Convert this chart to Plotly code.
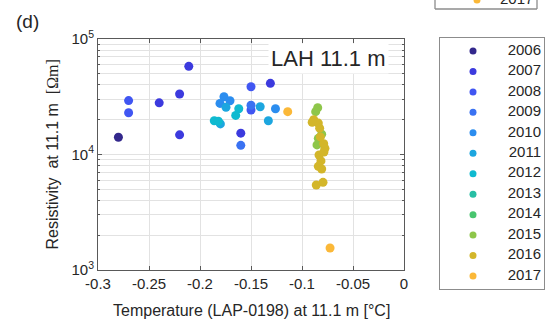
import plotly.graph_objects as go

W, H = 547, 324

# Survey years and their marker colours
years = [2006, 2007, 2008, 2009, 2010, 2011, 2012, 2013, 2014, 2015, 2016, 2017]
year_colors = ["#33288c", "#3c3ade", "#4056f2", "#3a72f2", "#2b8def", "#1ca6df",
               "#0fbad0", "#27bea4", "#48c56f", "#8ec64a", "#d3b62a", "#fbb838"]

# Temperature (LAP-0198) at 11.1 m [°C]
temperature = [-0.280,
               -0.270, -0.270, -0.240, -0.220, -0.220, -0.211, -0.131, -0.160,
               -0.150, -0.150,
               -0.160, -0.150,
               -0.1765, -0.1804, -0.1706, -0.126,
               -0.1745, -0.180, -0.141, -0.133,
               -0.162, -0.165, -0.186, -0.182,
               -0.0846, -0.0866, -0.0807, -0.0840, -0.0853,
               -0.0885, -0.0840, -0.0827, -0.0787, -0.0775, -0.0833, -0.0814,
               -0.0840, -0.0807, -0.0860, -0.0794, -0.0900, -0.0785, -0.0820,
               -0.114, -0.0725]
# Resistivity at 11.1 m [Ohm m]
resistivity = [14100,
               29300, 23000, 28000, 33400, 14800, 58000, 41300, 15300,
               38600, 24300,
               12000, 26700,
               31600, 27700, 29200, 24900,
               25600, 18400, 25900, 19600,
               24900, 21800, 19600, 19400,
               25400, 23500, 15000, 13800, 12100,
               20000, 18700, 16900, 12400, 11300, 9900, 8800,
               7900, 7490, 5450, 5740, 19000, 10500, 14200,
               23500, 1550]
sample_year = [2006,
               2008, 2008, 2007, 2007, 2007, 2007, 2007, 2007,
               2008, 2008,
               2009, 2009,
               2010, 2010, 2010, 2010,
               2011, 2011, 2011, 2011,
               2012, 2012, 2012, 2012,
               2015, 2015, 2015, 2015, 2015,
               2016, 2016, 2016, 2016, 2016, 2016, 2016,
               2016, 2016, 2016, 2016, 2016, 2016, 2016,
               2017, 2017]

x_ticks = [-0.3, -0.25, -0.2, -0.15, -0.1, -0.05, 0]
x_tick_labels = ["-0.3", "-0.25", "-0.2", "-0.15", "-0.1", "-0.05", "0"]
y_ticks = [1e3, 1e4, 1e5]
y_tick_labels = ["10<sup>3</sup>", "10<sup>4</sup>", "10<sup>5</sup>"]

FONT = "Liberation Sans, Arial, sans-serif"
TEXT = "#262626"
AXIS = "#595959"
GRID = "#e2e2e2"

fig = go.Figure()

for yr, col in zip(years, year_colors):
    xs = [t for t, y in zip(temperature, sample_year) if y == yr]
    ys = [r for r, y in zip(resistivity, sample_year) if y == yr]
    if xs:
        fig.add_trace(go.Scatter(
            x=xs, y=ys, mode="markers", name=str(yr), showlegend=False,
            marker=dict(color=col, size=9, line=dict(width=0)),
            xaxis="x", yaxis="y"))

# Year key drawn in its own small axes box
fig.add_trace(go.Scatter(
    x=[33] * len(years), y=list(range(len(years))), mode="markers",
    marker=dict(color=year_colors, size=7, line=dict(width=0)),
    showlegend=False, hoverinfo="skip", xaxis="x2", yaxis="y2"))
fig.add_trace(go.Scatter(
    x=[101] * len(years), y=list(range(len(years))), mode="text",
    text=[str(y) for y in years], textposition="middle left",
    textfont=dict(family=FONT, size=15, color=TEXT),
    showlegend=False, hoverinfo="skip", xaxis="x2", yaxis="y2"))

fig.update_layout(
    width=W, height=H, autosize=False,
    margin=dict(l=0, r=0, t=0, b=0, autoexpand=False),
    paper_bgcolor="white", plot_bgcolor="white",
    font=dict(family=FONT, size=15, color=TEXT),
    xaxis=dict(
        domain=[98 / W, 404 / W], range=[-0.3, 0],
        tickmode="array", tickvals=x_ticks, ticktext=x_tick_labels,
        showgrid=True, gridcolor=GRID, gridwidth=1, zeroline=False,
        showline=True, linecolor=AXIS, linewidth=1, mirror="allticks",
        ticks="inside", ticklen=4, tickcolor=AXIS,
        tickfont=dict(size=15, color=TEXT), anchor="y"),
    yaxis=dict(
        domain=[54 / H, 285 / H], type="log", range=[3, 5],
        tickmode="array", tickvals=y_ticks, ticktext=y_tick_labels,
        showgrid=True, gridcolor=GRID, gridwidth=1, zeroline=False,
        showline=True, linecolor=AXIS, linewidth=1, mirror="allticks",
        ticks="inside", ticklen=4, tickcolor=AXIS,
        minor=dict(dtick="D1", ticks="inside", ticklen=2, tickcolor=AXIS,
                   showgrid=True, gridcolor=GRID, gridwidth=1),
        tickfont=dict(size=15, color=TEXT), anchor="x"),
    xaxis2=dict(
        domain=[440 / W, 544 / W], range=[0, 104], anchor="y2",
        showgrid=False, zeroline=False, showticklabels=False, ticks="",
        showline=True, linecolor="#8c8c8c", linewidth=1.3, mirror=True),
    yaxis2=dict(
        domain=[35 / H, 286 / H], range=[11.636, -0.636], anchor="x2",
        showgrid=False, zeroline=False, showticklabels=False, ticks="",
        showline=True, linecolor="#8c8c8c", linewidth=1.3, mirror=True),
)

annotations = [
    dict(text="(d)", x=27 / W, y=1 - 22 / H, font=dict(size=19)),
    dict(text="Resistivity\u00a0 at 11.1 m\u00a0 <span style='font-family:Liberation Serif, Times New Roman, serif'>[\u03a9m]</span>",
         x=52 / W, y=1 - 154.5 / H, textangle=-90, font=dict(size=16)),
    dict(text="Temperature (LAP-0198) at 11.1 m [\u00b0C]",
         x=251 / W, y=1 - 310 / H, font=dict(size=16)),
    dict(text="LAH 11.1 m", x=328 / W, y=1 - 58 / H, font=dict(size=22),
         bgcolor="white", borderpad=2),
    dict(text="2017", x=516 / W, y=1 + 1 / H, font=dict(size=15)),
]
for a in annotations:
    a.update(xref="paper", yref="paper", showarrow=False,
             xanchor="center", yanchor="middle")
    if "font" in a:
        a["font"].setdefault("color", TEXT)
        a["font"].setdefault("family", FONT)
fig.update_layout(annotations=annotations)

# Lower edge of the key box of the panel above
frame = dict(color="#8c8c8c", width=1.3)
fig.add_shape(type="line", xref="paper", yref="paper",
              x0=435 / W, x1=435 / W, y0=1 - 9 / H, y1=1.05, line=frame)
fig.add_shape(type="line", xref="paper", yref="paper",
              x0=537 / W, x1=537 / W, y0=1 - 9 / H, y1=1.05, line=frame)
fig.add_shape(type="line", xref="paper", yref="paper",
              x0=435 / W, x1=537 / W, y0=1 - 9 / H, y1=1 - 9 / H, line=frame)
fig.add_shape(type="circle", xref="paper", yref="paper",
              x0=473.5 / W, x1=480.5 / W, y0=1 - 3.5 / H, y1=1 + 3.5 / H,
              fillcolor=year_colors[-1], line=dict(width=0))

fig.write_html("out.html")
